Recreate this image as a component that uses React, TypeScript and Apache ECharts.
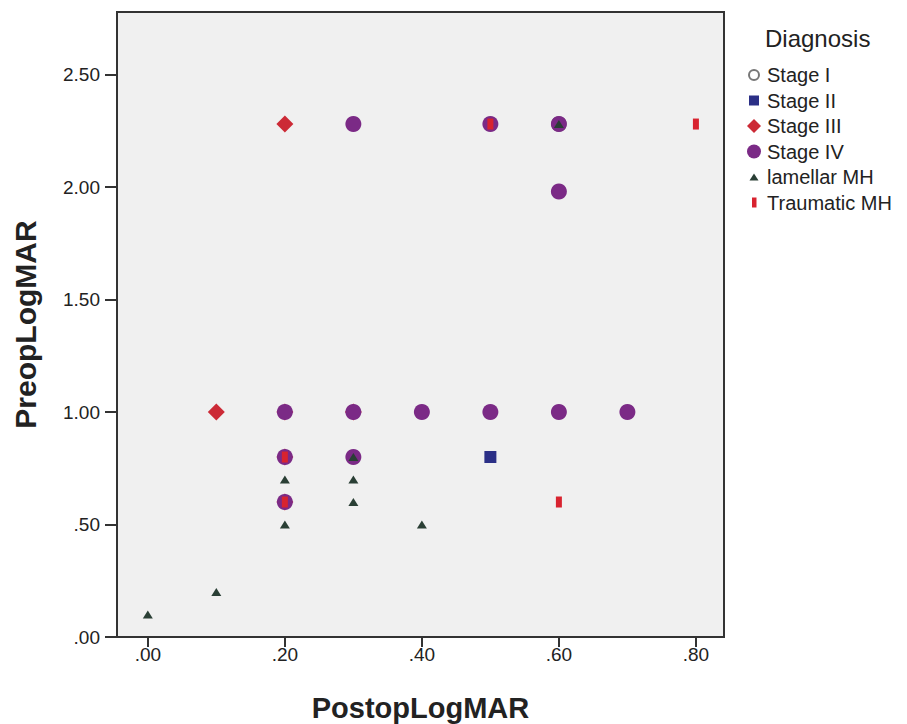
import React, { useEffect, useRef } from "react";
import * as echarts from "echarts";

const seriesNames = ["Stage I", "Stage II", "Stage III", "Stage IV", "lamellar MH", "Traumatic MH"];
const stageI: number[][] = [[0.6, 2.28]];
const stageII: number[][] = [[0.5, 0.8]];
const stageIII: number[][] = [[0.2, 2.28], [0.1, 1.0], [0.2, 1.0], [0.3, 1.0], [0.2, 0.8], [0.2, 0.6]];
const stageIV: number[][] = [
  [0.3, 2.28], [0.5, 2.28], [0.6, 2.28], [0.6, 1.98],
  [0.2, 1.0], [0.3, 1.0], [0.4, 1.0], [0.5, 1.0], [0.6, 1.0], [0.7, 1.0],
  [0.2, 0.8], [0.3, 0.8], [0.2, 0.6],
];
const lamellar: number[][] = [
  [0.0, 0.1], [0.1, 0.2], [0.2, 0.5], [0.2, 0.7], [0.3, 0.7], [0.3, 0.6], [0.4, 0.5], [0.3, 0.8], [0.6, 2.28],
];
const traumatic: number[][] = [[0.8, 2.28], [0.6, 0.6], [0.2, 0.8], [0.2, 0.6], [0.5, 2.28]];
const xTicks = [0, 0.2, 0.4, 0.6, 0.8];
const yTicks = [0, 0.5, 1.0, 1.5, 2.0, 2.5];

const fmt = (v: number) => v.toFixed(2).replace(/^0/, "");
const FONT = "Liberation Sans";

export default function App() {
  const ref = useRef<HTMLDivElement>(null);
  useEffect(() => {
    const chart = echarts.init(ref.current!, null, { renderer: "svg" });
    const colors = ["#ffffff", "#2b2f86", "#cc2a36", "#7b2a86", "#2a3f35", "#d8232f"];
    const legendIcons = [
      "path://M0,0M16,16M13,8A5,5 0 1 1 3,8A5,5 0 1 1 13,8Z",
      "path://M0,0M16,16M3,3h10v10h-10z",
      "path://M0,0M16,16M8,1L15,8L8,15L1,8Z",
      "path://M0,0M16,16M15,8A7,7 0 1 1 1,8A7,7 0 1 1 15,8Z",
      "path://M0,0M16,16M8,4.5L12.5,11.5L3.5,11.5Z",
      "path://M0,0M16,16M6,3h4.5v10h-4.5z",
    ];
    const datas = [stageI, stageII, stageIII, stageIV, lamellar, traumatic];
    const symbols: any[] = ["circle", "rect", "diamond", "circle", "triangle", "rect"];
    const sizes: any[] = [14, 12, [17, 17], 16, [10, 8], [6, 11]];
    chart.setOption({
      animation: false,
      backgroundColor: "#ffffff",
      textStyle: { fontFamily: FONT },
      title: {
        text: "Diagnosis",
        left: 760,
        top: 21,
        textStyle: { fontFamily: FONT, fontSize: 24, fontWeight: "normal", color: "#222" },
      },
      legend: {
        orient: "vertical",
        left: 740,
        top: 60,
        itemWidth: 16,
        itemHeight: 16,
        itemGap: 5.5,
        textStyle: { fontFamily: FONT, fontSize: 20, color: "#222" },
        data: seriesNames.map((n, i) => ({ name: n, icon: legendIcons[i] })),
      },
      grid: {
        left: 117,
        right: 183,
        top: 12,
        bottom: 87,
        outerBoundsMode: "none",
        containLabel: false,
        show: true,
        backgroundColor: "#f0f0f0",
        borderColor: "#333",
        borderWidth: 2,
      },
      xAxis: {
        type: "value",
        min: -0.045,
        max: 0.841,
        name: "PostopLogMAR",
        nameLocation: "middle",
        nameGap: 56,
        nameTextStyle: { fontFamily: FONT, fontSize: 29, fontWeight: "bold", color: "#222" },
        axisLine: { show: true, onZero: false, lineStyle: { color: "#333", width: 2 } },
        axisTick: { show: true, length: 10, customValues: xTicks, lineStyle: { color: "#333", width: 2 } },
        axisLabel: { customValues: xTicks, formatter: fmt, fontSize: 19, color: "#222", margin: 8, fontFamily: FONT },
        splitLine: { show: false },
      },
      yAxis: {
        type: "value",
        min: 0,
        max: 2.778,
        name: "PreopLogMAR",
        nameLocation: "middle",
        nameGap: 77,
        nameRotate: 90,
        nameTextStyle: { fontFamily: FONT, fontSize: 30, fontWeight: "bold", color: "#222" },
        axisLine: { show: true, onZero: false, lineStyle: { color: "#333", width: 2 } },
        axisTick: { show: true, length: 12, customValues: yTicks, lineStyle: { color: "#333", width: 2 } },
        axisLabel: { customValues: yTicks, formatter: fmt, fontSize: 19, color: "#222", margin: 17, fontFamily: FONT },
        splitLine: { show: false },
      },
      series: seriesNames.map((n, i) => ({
        name: n,
        type: "scatter",
        data: datas[i],
        symbol: symbols[i],
        symbolSize: sizes[i],
        itemStyle:
          i === 0
            ? { color: "#ffffff", borderColor: "#777777", borderWidth: 1.5, opacity: 1 }
            : { color: colors[i], opacity: 1 },
        emphasis: { disabled: true },
      })),
    });
    return () => chart.dispose();
  }, []);
  return (
    <div
      ref={ref}
      style={{ position: "fixed", left: 0, top: 0, width: 907, height: 724 }}
    />
  );
}
